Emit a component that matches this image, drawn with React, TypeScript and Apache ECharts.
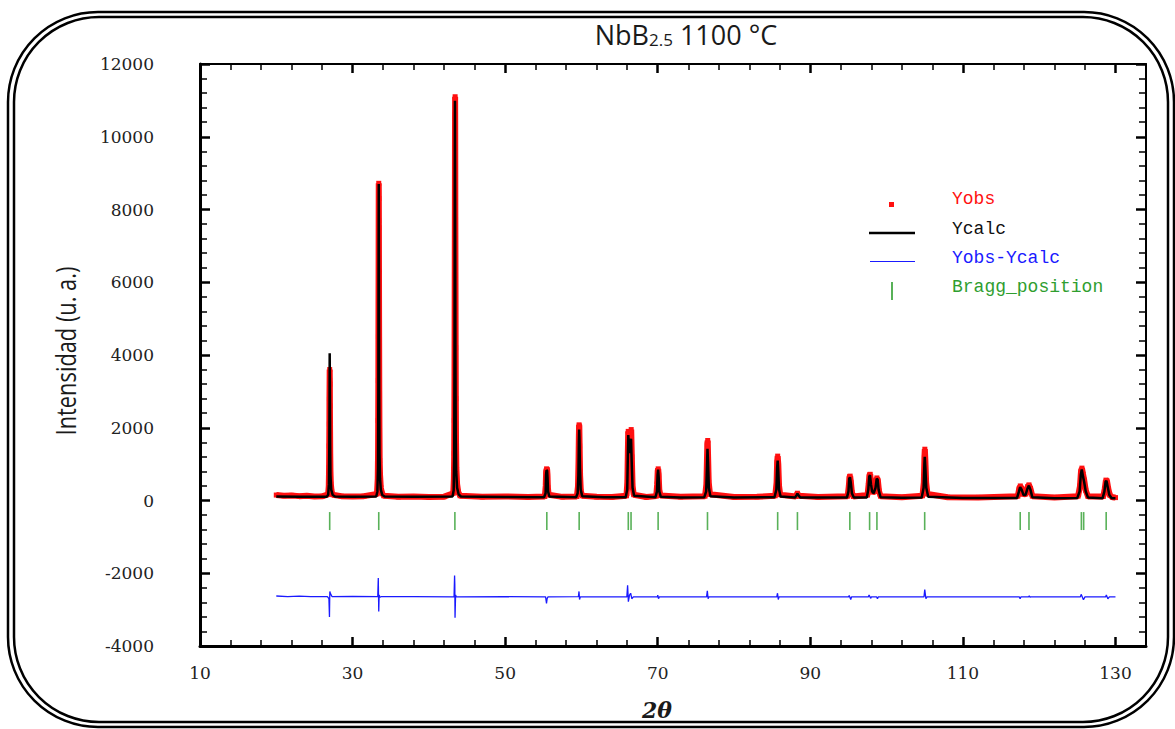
import React, { useEffect, useRef } from "react";
import * as echarts from "echarts";

// ---- Data ----
const titleText = "NbB{s|2.5} 1100 °C";
const yAxisTitle = "Intensidad (u. a.)";
const xAxisTitle = "2θ";

const xMajorTicks = [10, 30, 50, 70, 90, 110, 130];
const xMinorTicks = [14, 18, 22, 26, 34, 38, 42, 46, 54, 58, 62, 66, 74, 78, 82, 86, 94, 98, 102, 106, 114, 118, 122, 126, 134];

const braggPositions = [27.0, 33.43, 43.41, 55.46, 59.7, 66.14, 66.5, 70.05, 76.52, 85.72, 88.31, 95.18, 97.77, 98.73, 104.99, 117.51, 118.66, 125.53, 125.83, 128.78];
const braggLevel = -565;

const ycalc: [number, number][] = [
  [20, 110], [23, 105], [26.6, 100], [26.8, 160], [26.9, 450], [26.95, 1500], [26.98, 2800], [27.0, 4050], [27.03, 2900], [27.06, 1500], [27.1, 700], [27.2, 300], [27.4, 150], [27.7, 110],
  [30, 100], [33.1, 110], [33.25, 250], [33.33, 900], [33.38, 3000], [33.4, 5900], [33.43, 8700], [33.46, 6000], [33.49, 3000], [33.53, 1300], [33.6, 600], [33.7, 300], [33.9, 150], [34.2, 110],
  [38, 100], [43.1, 110], [43.25, 280], [43.32, 1200], [43.36, 4000], [43.39, 8800], [43.42, 10990], [43.45, 8000], [43.48, 4000], [43.52, 1800], [43.58, 800], [43.7, 350], [43.9, 170], [44.2, 110],
  [50, 95], [55.1, 90], [55.3, 200], [55.36, 700], [55.42, 830], [55.5, 820], [55.56, 600], [55.62, 250], [55.8, 110],
  [59.3, 90], [59.5, 200], [59.6, 700], [59.66, 1600], [59.7, 1950], [59.74, 1700], [59.8, 900], [59.9, 300], [60.1, 120],
  [63, 90], [65.8, 90], [66.0, 300], [66.08, 1200], [66.14, 1800], [66.22, 1500], [66.3, 1300], [66.42, 1500], [66.5, 1700], [66.58, 1100], [66.7, 350], [66.9, 130],
  [69.7, 90], [69.9, 250], [69.98, 700], [70.05, 850], [70.12, 650], [70.2, 250], [70.4, 100],
  [73, 85], [76.1, 90], [76.35, 250], [76.45, 900], [76.52, 1420], [76.6, 1000], [76.7, 350], [76.9, 120],
  [80, 85], [85.3, 90], [85.55, 300], [85.65, 900], [85.72, 1100], [85.8, 800], [85.9, 300], [86.1, 110],
  [88.0, 80], [88.2, 150], [88.31, 190], [88.45, 140], [88.7, 80],
  [92, 80], [94.8, 80], [95.0, 250], [95.1, 600], [95.2, 640], [95.3, 500], [95.45, 200], [95.7, 80],
  [97.4, 80], [97.6, 300], [97.72, 650], [97.82, 700], [97.95, 450], [98.1, 250], [98.3, 200], [98.55, 350], [98.7, 600], [98.82, 580], [98.95, 300], [99.2, 90],
  [102, 75], [104.6, 80], [104.85, 350], [104.95, 1000], [105.0, 1200], [105.08, 900], [105.2, 350], [105.45, 100],
  [110, 70], [117.1, 70], [117.35, 250], [117.5, 370], [117.7, 300], [117.95, 150], [118.2, 150], [118.45, 320], [118.65, 410], [118.85, 300], [119.1, 90],
  [122, 65], [125.0, 70], [125.3, 250], [125.45, 700], [125.58, 850], [125.75, 650], [125.9, 500], [126.1, 250], [126.4, 80],
  [128.3, 60], [128.55, 250], [128.7, 520], [128.82, 540], [129.0, 350], [129.2, 150], [129.5, 60], [130, 60],
];

const yobs: [number, number][] = [
  [20, 150], [21, 130], [22, 140], [23, 120], [24, 130], [25, 110], [26, 115], [26.8, 170], [26.88, 400], [26.92, 900], [26.94, 1500], [26.96, 2100], [26.97, 2800], [26.99, 3300], [27.0, 3600], [27.02, 3200], [27.03, 2600], [27.05, 1900], [27.07, 1300], [27.1, 800], [27.15, 450], [27.25, 250], [27.4, 160],
  [28.5, 120], [30, 110], [31.5, 120], [33.2, 180], [33.3, 600], [33.34, 1300], [33.36, 2200], [33.38, 3300], [33.39, 4500], [33.4, 5500], [33.41, 6300], [33.42, 7700], [33.43, 8720], [33.44, 8300], [33.45, 7500], [33.46, 6300], [33.48, 4500], [33.5, 3000], [33.52, 2000], [33.55, 1100], [33.6, 700], [33.7, 350], [33.85, 200], [34.1, 130],
  [36, 100], [38, 110], [40, 95], [42, 105], [43.2, 200], [43.28, 600], [43.32, 1300], [43.34, 2200], [43.36, 3400], [43.37, 4300], [43.38, 5200], [43.39, 6200], [43.4, 7200], [43.41, 8200], [43.42, 9700], [43.43, 10600], [43.44, 11100], [43.45, 10500], [43.46, 9200], [43.47, 7800], [43.49, 6000], [43.51, 4200], [43.53, 2800], [43.56, 1600], [43.6, 900], [43.7, 450], [43.85, 230], [44.1, 130],
  [47, 100], [50, 110], [53, 95], [55.2, 110], [55.32, 400], [55.37, 780], [55.43, 870], [55.5, 850], [55.55, 700], [55.6, 350], [55.7, 160],
  [57.5, 100], [59.4, 110], [59.55, 400], [59.62, 1100], [59.66, 1750], [59.69, 2080], [59.72, 2050], [59.76, 1500], [59.82, 700], [59.92, 250], [60.1, 130],
  [62, 100], [64, 95], [65.9, 130], [66.02, 500], [66.08, 1300], [66.13, 1900], [66.2, 1700], [66.28, 1500], [66.38, 1600], [66.46, 1850], [66.52, 1950], [66.6, 1200], [66.7, 400], [66.85, 160],
  [68.5, 95], [69.8, 120], [69.93, 450], [70.0, 820], [70.06, 870], [70.12, 700], [70.2, 300], [70.35, 140],
  [73, 100], [76.2, 120], [76.38, 450], [76.45, 1100], [76.5, 1550], [76.55, 1650], [76.6, 1200], [76.68, 500], [76.85, 170],
  [80, 95], [83, 100], [85.4, 130], [85.58, 500], [85.65, 1050], [85.72, 1220], [85.8, 1000], [85.9, 400], [86.05, 160],
  [88.1, 110], [88.3, 200], [88.5, 130],
  [91, 95], [94.9, 120], [95.05, 400], [95.13, 650], [95.22, 670], [95.32, 500], [95.45, 220], [95.65, 110],
  [97.5, 150], [97.65, 450], [97.75, 700], [97.85, 720], [97.98, 420], [98.2, 230], [98.45, 250], [98.6, 500], [98.72, 620], [98.85, 560], [99.0, 260], [99.2, 120],
  [102, 90], [104.7, 130], [104.88, 500], [104.96, 1200], [105.01, 1410], [105.08, 1100], [105.18, 500], [105.35, 180],
  [108, 90], [112, 85], [117.2, 120], [117.38, 320], [117.52, 400], [117.7, 330], [117.95, 170], [118.25, 180], [118.5, 380], [118.66, 430], [118.85, 330], [119.1, 120],
  [122, 85], [125.1, 120], [125.35, 400], [125.48, 800], [125.6, 890], [125.75, 720], [125.9, 560], [126.1, 280], [126.4, 110],
  [128.4, 110], [128.6, 330], [128.75, 560], [128.88, 540], [129.05, 330], [129.25, 150], [129.6, 90], [130, 80],
];

const diff: [number, number][] = [
  [20, -2625], [21.5, -2640], [23, -2630], [24.5, -2645], [26.7, -2640], [26.9, -2700], [26.97, -3200], [27.0, -2700], [27.02, -2500], [27.1, -2560], [27.3, -2640],
  [30, -2635], [33.3, -2640], [33.37, -2130], [33.4, -2600], [33.43, -3050], [33.48, -2600], [33.6, -2660], [33.8, -2640],
  [38, -2640], [43.3, -2650], [43.37, -2060], [43.4, -2300], [43.43, -3220], [43.5, -2600], [43.6, -2650],
  [50, -2645], [55.3, -2650], [55.42, -2830], [55.5, -2700], [55.6, -2650],
  [59.6, -2640], [59.68, -2500], [59.75, -2720], [59.85, -2650],
  [65.95, -2650], [66.05, -2330], [66.15, -2780], [66.3, -2600], [66.45, -2550], [66.6, -2700], [66.8, -2650],
  [69.95, -2650], [70.0, -2600], [70.1, -2700], [70.2, -2650],
  [76.4, -2650], [76.5, -2480], [76.6, -2700], [76.7, -2650],
  [85.6, -2650], [85.7, -2550], [85.8, -2720], [85.9, -2650],
  [95.0, -2650], [95.1, -2610], [95.3, -2720], [95.4, -2650],
  [97.6, -2650], [97.7, -2600], [97.9, -2690], [98.0, -2650], [98.7, -2650], [98.8, -2700], [98.9, -2650],
  [104.9, -2650], [105.0, -2450], [105.15, -2700], [105.3, -2650],
  [117.4, -2650], [117.5, -2700], [117.6, -2650], [118.6, -2650], [118.7, -2620], [118.8, -2660], [118.9, -2650],
  [125.4, -2650], [125.5, -2580], [125.8, -2730], [126.0, -2650],
  [128.7, -2650], [128.8, -2600], [129.0, -2700], [129.2, -2650], [130, -2650],
];

const legendItems = ["Yobs", "Ycalc", "Yobs-Ycalc", "Bragg_position"];

const RED = "#ff1010";
const BLUE = "#1a1aff";
const GREEN = "#2f9e2f";
const LABEL_FONT = "'DejaVu Serif', 'Liberation Serif', serif";

export default function App() {
  const ref = useRef<HTMLDivElement>(null);

  useEffect(() => {
    if (!ref.current) return;
    const chart = echarts.init(ref.current, null, { renderer: "svg" });

    const gridBox = { left: 200, right: 29, top: 64, bottom: 83 };
    const axisBlack = "#000";

    const majorX = (position: string, showLine: boolean, lineWidth: number, labels: boolean) => ({
      type: "value",
      gridIndex: 0,
      position,
      min: 10,
      max: 134,
      axisLine: { show: showLine, onZero: false, lineStyle: { color: axisBlack, width: lineWidth } },
      axisTick: { show: true, inside: true, length: 9, lineStyle: { color: axisBlack, width: 2.5 }, customValues: xMajorTicks },
      axisLabel: labels
        ? { show: true, customValues: xMajorTicks, margin: 18, color: "#222", fontFamily: LABEL_FONT, fontSize: 17 }
        : { show: false },
      splitLine: { show: false },
    });
    const minorX = (position: string) => ({
      type: "value",
      gridIndex: 1,
      position,
      min: 10,
      max: 134,
      axisLine: { show: false, onZero: false },
      axisTick: { show: true, inside: true, length: 6, lineStyle: { color: axisBlack, width: 1.5 }, customValues: xMinorTicks },
      axisLabel: { show: false },
      splitLine: { show: false },
    });
    const yAx = (position: string, labels: boolean, lineWidth: number) => ({
      type: "value",
      gridIndex: 0,
      position,
      min: -4000,
      max: 12000,
      interval: 2000,
      axisLine: { show: true, onZero: false, lineStyle: { color: axisBlack, width: lineWidth } },
      axisTick: { show: true, inside: true, length: 10, lineStyle: { color: axisBlack, width: 2.5 } },
      minorTick: { show: true, splitNumber: 5, length: 7, lineStyle: { color: axisBlack, width: 1.5 } },
      axisLabel: labels
        ? { show: true, margin: 46, color: "#222", fontFamily: LABEL_FONT, fontSize: 17, formatter: (v: number) => String(v) }
        : { show: false },
      splitLine: { show: false },
      minorSplitLine: { show: false },
    });

    const lx = 869;
    const tx = 952;
    const monoFont = "18px 'Liberation Mono', 'DejaVu Sans Mono', monospace";

    chart.setOption({
      animation: false,
      backgroundColor: "#fff",
      title: {
        text: titleText,
        left: 681,
        top: 16,
        textAlign: "center",
        textStyle: {
          fontFamily: "'Open Sans', sans-serif",
          fontSize: 27,
          fontWeight: "normal",
          color: "#1a1a1a",
          rich: {
            s: { fontSize: 17, fontFamily: "'Open Sans', sans-serif", color: "#1a1a1a", verticalAlign: "bottom" },
          },
        },
      },
      grid: [
        { ...gridBox, containLabel: false },
        { ...gridBox, containLabel: false },
      ],
      xAxis: [
        majorX("bottom", true, 3, true),
        majorX("top", true, 2, false),
        minorX("bottom"),
        minorX("top"),
      ],
      yAxis: [
        yAx("left", true, 3),
        yAx("right", false, 2),
        { type: "value", gridIndex: 1, min: -4000, max: 12000, show: false },
      ],
      series: [
        {
          name: "Yobs",
          type: "line",
          xAxisIndex: 0,
          yAxisIndex: 0,
          data: yobs,
          showSymbol: true,
          symbol: "rect",
          symbolSize: 5,
          itemStyle: { color: RED },
          lineStyle: { color: RED, width: 6 },
          z: 2,
        },
        {
          name: "Ycalc",
          type: "line",
          xAxisIndex: 0,
          yAxisIndex: 0,
          data: ycalc,
          showSymbol: false,
          lineStyle: { color: "#000", width: 2.5 },
          z: 3,
        },
        {
          name: "Yobs-Ycalc",
          type: "line",
          xAxisIndex: 0,
          yAxisIndex: 0,
          data: diff,
          showSymbol: false,
          lineStyle: { color: BLUE, width: 1.3 },
          z: 3,
        },
        {
          name: "Bragg_position",
          type: "scatter",
          xAxisIndex: 0,
          yAxisIndex: 0,
          data: braggPositions.map((p) => [p, braggLevel]),
          symbol: "rect",
          symbolSize: [1.6, 18],
          itemStyle: { color: GREEN },
          z: 3,
        },
      ],
      graphic: [
        { type: "rect", shape: { x: 8, y: 12, width: 1166, height: 715, r: 90 }, style: { fill: "none", stroke: "#000", lineWidth: 2.5 }, silent: true },
        { type: "rect", shape: { x: 14, y: 17, width: 1154, height: 705, r: 85 }, style: { fill: "none", stroke: "#000", lineWidth: 2.5 }, silent: true },
        {
          type: "text",
          x: 65,
          y: 351,
          rotation: Math.PI / 2,
          scaleX: 0.78,
          style: { text: yAxisTitle, font: "28px 'Open Sans', sans-serif", fill: "#1a1a1a", align: "center", verticalAlign: "middle" },
        },
        {
          type: "text",
          x: 657,
          y: 710,
          style: { text: xAxisTitle, font: "italic bold 22px 'DejaVu Serif', serif", fill: "#1a1a1a", align: "center", verticalAlign: "middle" },
        },
        // legend
        { type: "rect", shape: { x: 889, y: 202, width: 5, height: 5 }, style: { fill: RED } },
        { type: "text", x: tx, y: 199, style: { text: legendItems[0], font: monoFont, fill: RED, verticalAlign: "middle" } },
        { type: "line", shape: { x1: lx, y1: 233, x2: 915, y2: 233 }, style: { stroke: "#000", lineWidth: 2.5 } },
        { type: "text", x: tx, y: 229, style: { text: legendItems[1], font: monoFont, fill: "#111", verticalAlign: "middle" } },
        { type: "line", shape: { x1: lx + 1, y1: 261.5, x2: 915, y2: 261.5 }, style: { stroke: BLUE, lineWidth: 1.2 } },
        { type: "text", x: tx, y: 258, style: { text: legendItems[2], font: monoFont, fill: BLUE, verticalAlign: "middle" } },
        { type: "line", shape: { x1: 892, y1: 282, x2: 892, y2: 300 }, style: { stroke: GREEN, lineWidth: 1.6 } },
        { type: "text", x: tx, y: 287, style: { text: legendItems[3], font: monoFont, fill: GREEN, verticalAlign: "middle" } },
      ],
    });

    return () => chart.dispose();
  }, []);

  return (
    <div
      ref={ref}
      style={{ position: "absolute", left: 0, top: 0, width: 1175, height: 729, background: "#fff" }}
    />
  );
}
